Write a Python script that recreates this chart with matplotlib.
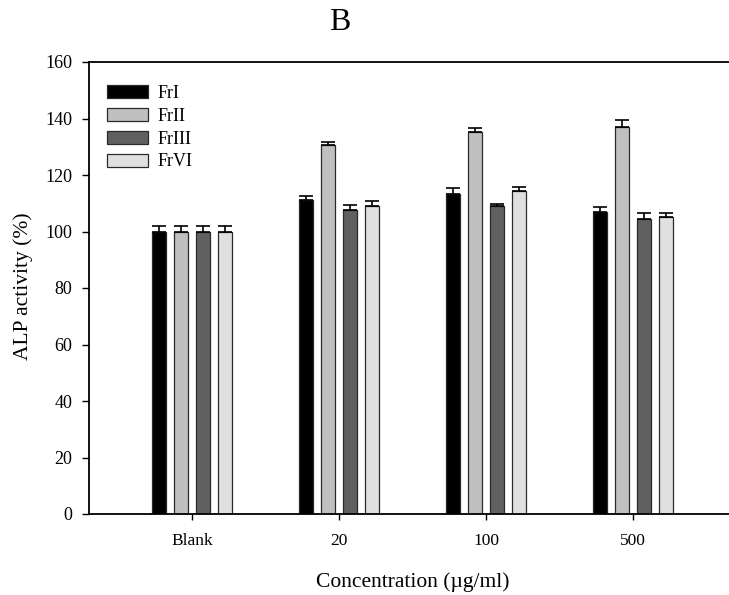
import matplotlib
matplotlib.use("Agg")
import matplotlib.pyplot as plt
import numpy as np

plt.rcParams['font.family'] = ['Liberation Serif', 'DejaVu Serif']

categories = ["Blank", "20", "100", "500"]
series = ["FrI", "FrII", "FrIII", "FrVI"]
values = {
    "FrI":   [100.0, 111.3, 113.3, 106.8],
    "FrII":  [100.0, 130.5, 135.1, 137.1],
    "FrIII": [100.0, 107.5, 108.9, 104.5],
    "FrVI":  [100.0, 108.9, 114.3, 105.1],
}
errors = {
    "FrI":   [2.0, 1.4, 2.0, 1.8],
    "FrII":  [2.0, 1.3, 1.6, 2.3],
    "FrIII": [2.0, 1.8, 0.9, 1.9],
    "FrVI":  [2.0, 1.9, 1.4, 1.6],
}
colors = {"FrI": "#000000", "FrII": "#c0c0c0", "FrIII": "#606060", "FrVI": "#e0e0e0"}
yticks = [0, 20, 40, 60, 80, 100, 120, 140, 160]

fig = plt.figure(figsize=(7.29, 5.95), dpi=100)
ax = fig.add_axes([89 / 729, 1 - 514 / 595, 647 / 729, 452 / 595])

x = np.arange(len(categories))
pitch = 0.15
width = 0.095
for i, s in enumerate(series):
    off = (i - 1.5) * pitch
    ax.bar(x + off, values[s], width, color=colors[s], edgecolor="#2a2a2a",
           linewidth=0.9, label=s, zorder=2)
    ax.errorbar(x + off, values[s], yerr=[np.zeros(len(categories)), errors[s]],
                fmt="none", ecolor="black", elinewidth=1.2, capsize=5,
                capthick=1.2, zorder=3)

ax.set_xlim(-0.7, 3.7)
ax.set_ylim(0, 160)
ax.set_yticks(yticks)
ax.set_xticks(x)
ax.set_xticklabels(categories, fontsize=12.5)
ax.tick_params(axis="y", labelsize=13, direction="out", length=4.8, width=1, pad=7)
ax.tick_params(axis="x", direction="out", length=4.3, width=1, pad=9.5)
for sp in ax.spines.values():
    sp.set_linewidth(1.3)

ax.set_xlabel("Concentration (µg/ml)", fontsize=15.5, va="center")
ax.xaxis.set_label_coords(0.5, -0.150)
ax.set_ylabel("ALP activity (%)", fontsize=15.5, va="center")
ax.yaxis.set_label_coords(-0.102, 0.503)
fig.text(340 / 729, 1 - 22 / 595, "B", ha="center", va="center", fontsize=23)

leg = ax.legend(loc="upper left", bbox_to_anchor=(0.017, 0.965), frameon=False,
                fontsize=13, handlelength=2.28, handleheight=0.74,
                handletextpad=0.5, labelspacing=0.32, borderaxespad=0)

fig.savefig("out.png", dpi=100)
